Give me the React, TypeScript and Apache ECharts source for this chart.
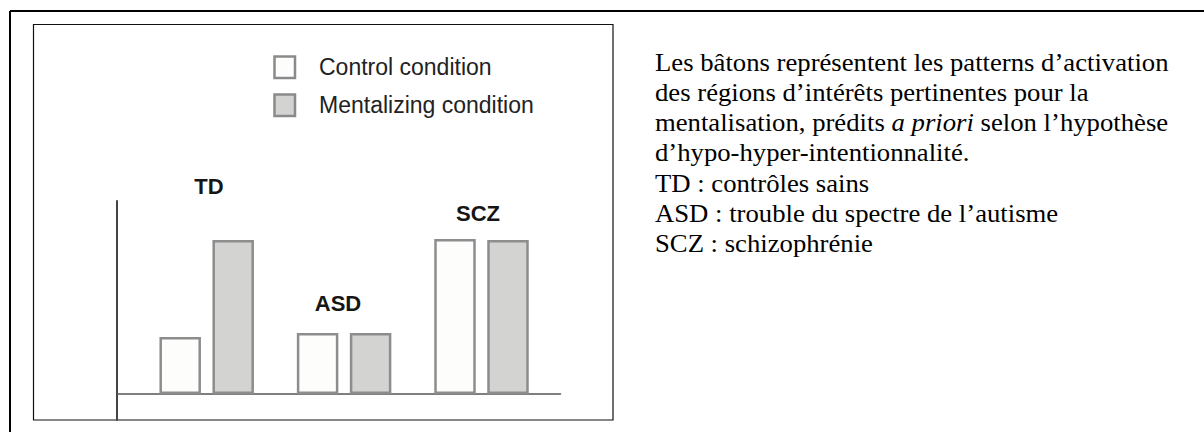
import React, { useEffect, useRef } from "react";
import * as echarts from "echarts";

const categories = ["TD", "ASD", "SCZ"];
const seriesNames = ["Control condition", "Mentalizing condition"];
const controlValues = [5.7, 6.1, 15.5];
const mentalizingValues = [15.4, 6.1, 15.4];

// text between * * is set in italics
const captionLines = [
  "Les bâtons représentent les patterns d’activation",
  "des régions d’intérêts pertinentes pour la",
  "mentalisation, prédits *a priori* selon l’hypothèse",
  "d’hypo-hyper-intentionnalité.",
  "TD : contrôles sains",
  "ASD : trouble du spectre de l’autisme",
  "SCZ : schizophrénie",
];

// annotation positions (center x, center y) for group labels
const groupLabelPos = [
  [209, 186],
  [338, 303],
  [478, 213],
];

const SANS = "Liberation Sans";
const SERIF = "Liberation Serif";

export default function App() {
  const ref = useRef<HTMLDivElement>(null);

  useEffect(() => {
    document.body.style.margin = "0";
    if (!ref.current) return;
    const chart = echarts.init(ref.current, null, { renderer: "svg" });

    const captionFontSize = 24.5;
    const captionScaleX = 1.09;
    const lineHeight = 30.2;
    const firstBaseline = 71;
    const captionX = 655;

    const canvas = document.createElement("canvas");
    const ctx = canvas.getContext("2d")!;
    const measure = (t: string, italic: boolean) => {
      ctx.font = (italic ? "italic " : "") + captionFontSize + "px '" + SERIF + "'";
      return ctx.measureText(t).width;
    };

    const graphics: any[] = [
      // outer frame
      {
        type: "line",
        shape: { x1: 10, y1: 11, x2: 1204, y2: 11 },
        style: { stroke: "#000", lineWidth: 2 },
        silent: true,
      },
      {
        type: "line",
        shape: { x1: 10, y1: 11, x2: 10, y2: 432 },
        style: { stroke: "#000", lineWidth: 2 },
        silent: true,
      },
      // inner figure box
      {
        type: "rect",
        shape: { x: 33.5, y: 24.5, width: 579.5, height: 395.5 },
        style: { stroke: "#111", lineWidth: 1.2, fill: "none" },
        silent: true,
      },
    ];

    categories.forEach((c, i) => {
      graphics.push({
        type: "text",
        x: groupLabelPos[i][0],
        y: groupLabelPos[i][1],
        style: {
          text: c,
          fontFamily: SANS,
          fontWeight: "bold",
          fontSize: 22,
          fill: "#161616",
          align: "center",
          verticalAlign: "middle",
        },
        z: 10,
      });
    });

    captionLines.forEach((line, i) => {
      const y = firstBaseline + i * lineHeight - 0.3375 * captionFontSize;
      const parts = line.split("*");
      const children: any[] = [];
      let offset = 0;
      parts.forEach((part, k) => {
        if (!part) return;
        const italic = k % 2 === 1;
        children.push({
          type: "text",
          x: offset,
          y: 0,
          style: {
            text: part,
            fontFamily: SERIF,
            fontSize: captionFontSize,
            fontStyle: italic ? "italic" : "normal",
            fill: "#000",
            align: "left",
            verticalAlign: "middle",
          },
        });
        offset += measure(part, italic);
      });
      graphics.push({
        type: "group",
        x: captionX,
        y,
        scaleX: captionScaleX,
        children,
        z: 10,
      });
    });

    const option: any = {
      animation: false,
      backgroundColor: "#fff",
      legend: {
        data: seriesNames,
        orient: "vertical",
        left: 273.25,
        top: 55.25,
        padding: 0,
        itemWidth: 20.5,
        itemHeight: 21.5,
        itemGap: 14,
        icon: "rect",
        itemStyle: { borderColor: "#8a8a8a", borderWidth: 2.5 },
        textStyle: {
          fontFamily: SANS,
          fontSize: 23,
          color: "#222",
          padding: [0, 0, 0, 19],
        },
        selectedMode: false,
      },
      grid: [
        { left: 117, top: 201, width: 443.5, height: 219 },
        { left: 138, top: 201, width: 412.2, height: 219 },
      ],
      xAxis: [
        {
          type: "value",
          gridIndex: 0,
          min: 0,
          max: 1,
          axisLine: { show: true, onZero: true, lineStyle: { color: "#555", width: 1.5 } },
          axisTick: { show: false },
          axisLabel: { show: false },
          splitLine: { show: false },
        },
        {
          type: "category",
          gridIndex: 1,
          data: categories,
          show: false,
        },
      ],
      yAxis: [
        {
          type: "value",
          gridIndex: 0,
          min: -2.6,
          max: 19.3,
          axisLine: { show: true, onZero: false, lineStyle: { color: "#444", width: 2 } },
          axisTick: { show: false },
          axisLabel: { show: false },
          splitLine: { show: false },
        },
        {
          type: "value",
          gridIndex: 1,
          min: -2.6,
          max: 19.3,
          show: false,
          splitLine: { show: false },
        },
      ],
      series: [
        {
          name: seriesNames[0],
          type: "bar",
          xAxisIndex: 1,
          yAxisIndex: 1,
          data: controlValues,
          barWidth: 41.5,
          barGap: "27.7%",
          itemStyle: { color: "#fdfdfc", borderColor: "#8d8d8d", borderWidth: 2.5 },
          z: 3,
        },
        {
          name: seriesNames[1],
          type: "bar",
          xAxisIndex: 1,
          yAxisIndex: 1,
          data: mentalizingValues,
          barWidth: 41.5,
          barGap: "27.7%",
          itemStyle: { color: "#d3d4d1", borderColor: "#8d8d8d", borderWidth: 2.5 },
          z: 3,
        },
      ],
      graphic: graphics,
    };

    chart.setOption(option);
    return () => {
      chart.dispose();
    };
  }, []);

  return <div ref={ref} style={{ width: 1204, height: 432 }} />;
}
